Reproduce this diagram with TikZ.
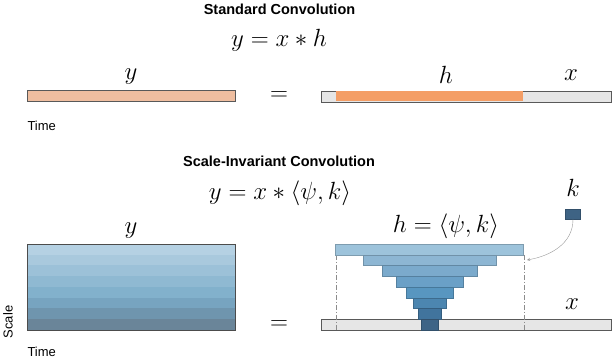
\documentclass[tikz,border=0pt]{standalone}
\usepackage{fontspec}
\setsansfont{Liberation Sans}
\usepackage{amsmath,amssymb}
\usetikzlibrary{positioning}
\definecolor{peach}{RGB}{239,190,160}
\definecolor{orng}{RGB}{244,158,102}
\definecolor{lgray}{RGB}{230,230,230}
\definecolor{kblue}{RGB}{62,99,132}
\tikzset{
  bar/.style={draw=black!65,line width=0.6pt,inner sep=0pt,minimum height=11pt},
  lbl/.style={font=\fontsize{23}{25}\selectfont},
  ttl/.style={font=\sffamily\bfseries\fontsize{14.5}{16}\selectfont},
  axl/.style={font=\sffamily\fontsize{13}{15}\selectfont},
  guide/.style={black!45,thin,dash pattern=on 5pt off 2pt on 1pt off 2pt}
}

\begin{document}
\begin{tikzpicture}[x=1pt,y=-1pt]
  \useasboundingbox (0,0) rectangle (614,358);
  \node[ttl] (ttlA) at (279.5,9) {Standard Convolution};
  \node[lbl] (eqA) at (279,40) {$y=x*h$};
  \node[bar,fill=peach,minimum width=208pt] (yA) at (131,96) {};
  \node[bar,fill=lgray,minimum width=290pt] (xA) at (466.5,96.5) {};
  \node[bar,fill=orng,draw=none,minimum width=187pt,minimum height=10pt] (hA) at (429.8,96.5) {};
  \node[lbl,above=2pt of yA] (ylA) {$y$};
  \node[lbl] (hlA) at (446,75) {$h$};
  \node[lbl] (xlA) at (571,75) {$x$};
  \node[lbl] (eqsA) at (279,96) {$=$};
  \node[axl,anchor=west] (timeA) at (24,126) {Time};

  \node[ttl] (ttlB) at (279,161) {Scale-Invariant Convolution};
  \node[lbl] (eqB) at (280,193) {$y=x*\langle\psi,k\rangle$};
  \foreach \red/\grn/\blu [count=\i from 0] in {181/209/227,169/201/221,156/193/216,143/185/210,130/177/204,119/164/192,111/149/174,106/133/153}{
    \definecolor{band}{RGB}{\red,\grn,\blu}
    \fill[band] (27,244+\i*10.75) rectangle (235,254.75+\i*10.75);
  }
  \node[draw=black!70,line width=0.7pt,minimum width=208pt,minimum height=86pt,inner sep=0pt] (yB) at (131,287) {};
  \node[lbl,above=2pt of yB] (ylB) {$y$};
  \node[axl,rotate=90] (scale) at (8,322) {Scale};
  \node[axl,anchor=west] (timeB) at (24,352) {Time};
  \node[lbl] (eqsB) at (279,325) {$=$};

  \node[bar,fill=lgray,minimum width=290pt] (xB) at (466.5,324.5) {};
  \draw[guide] (336,255) -- (336,330);
  \draw[guide] (524,255) -- (524,330);
  \foreach \w/\red/\grn/\blu [count=\i from 0] in {188/157/195/219,133/141/182/211,95/123/170/204,67/106/160/199,47/88/150/192,33/76/134/176,23/65/116/157,17/62/100/134}{
    \definecolor{lvl}{RGB}{\red,\grn,\blu}
    \node[bar,draw=lvl!80!black,line width=0.5pt,fill=lvl,minimum width=\w pt,minimum height=10.75pt] (h\i) at (429.5,249.4+\i*10.75) {};
  }
  \node[lbl] (hlB) at (446,226) {$h=\langle\psi,k\rangle$};
  \node[lbl] (xlB) at (572,304) {$x$};
  \node[lbl] (klB) at (573,188) {$k$};
  \node[fill=kblue,draw=kblue!80!black,minimum width=15pt,minimum height=10.5pt,inner sep=0pt] (kbox) at (573,214) {};
  \coordinate (kin) at (527,260);
  \draw[black!40,thin,->,>=stealth] (kbox.south) to[out=-90,in=10] (kin);
\end{tikzpicture}
\end{document}
